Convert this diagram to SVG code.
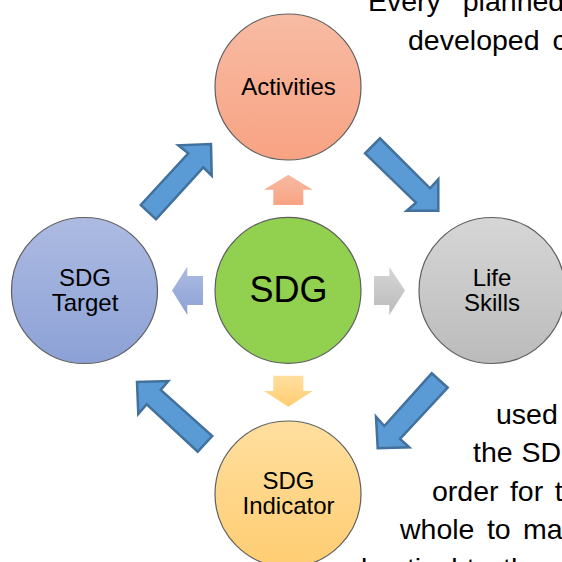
<svg xmlns="http://www.w3.org/2000/svg" width="562" height="562" viewBox="0 0 562 562">
<style>
text{font-family:"Liberation Sans",Arial,sans-serif;fill:#000;text-anchor:middle}
.n{font-size:24px}
.b{font-size:28.500px;text-anchor:start}
.c{stroke:#5f5f5f;stroke-width:1.2}
.a{fill:#5b9bd5;stroke:#41719c;stroke-width:2.500;stroke-linejoin:miter}
</style>
<defs>
<linearGradient id="o" x1="0" y1="0" x2="0" y2="1"><stop offset="0" stop-color="#f7bba3"/><stop offset="1" stop-color="#f9a383"/></linearGradient>
<linearGradient id="g" x1="0" y1="0" x2="0" y2="1"><stop offset="0" stop-color="#d6d6d6"/><stop offset="1" stop-color="#bbbbbb"/></linearGradient>
<linearGradient id="y" x1="0" y1="0" x2="0" y2="1"><stop offset="0" stop-color="#ffdf9f"/><stop offset="1" stop-color="#ffcd72"/></linearGradient>
<linearGradient id="u" x1="0" y1="0" x2="0" y2="1"><stop offset="0" stop-color="#adbbe2"/><stop offset="1" stop-color="#8ca1d6"/></linearGradient>
</defs>
<g id="body-text">
<text class="b" x="368" y="11" word-spacing="14">Every planned</text>
<text class="b" x="408" y="50" word-spacing="5">developed c</text>
<text class="b" x="496" y="424">used</text>
<text class="b" x="473" y="462" word-spacing="1">the SD</text>
<text class="b" x="432" y="501" word-spacing="3.500">order for t</text>
<text class="b" x="400" y="539" word-spacing="4.500">whole to ma</text>
<text class="b" x="361" y="577.500">bactical<tspan x="466.700">to</tspan><tspan x="503">the</tspan></text>
</g>
<g id="connectors">
<path class="a" d="M140.700 205L188.300 153.300L178.300 145.300L211 144L211.700 175.700L203.300 167.300L156 219.300Z"/>
<path class="a" d="M365 153.300L380 138.300L430 188.300L438.300 179.300V210.700H406.700L416 202.700Z"/>
<path class="a" d="M431.700 373.300L447.700 387.700L400 439L409.300 447.300L377.700 448.300L376 416.700L384.300 426Z"/>
<path class="a" d="M212.300 436L197.700 451.700L146.700 404.300L138.300 414L137 382L168.300 381L160.700 390Z"/>
<path fill="url(#o)" d="M264 189.700L288.300 174.700L312.700 189.700H303.300V205H273.300V189.700Z"/>
<path fill="url(#g)" d="M374 276H389.300V266.700L405 290.500L389.300 315V305H374Z"/>
<path fill="url(#y)" d="M273.300 375.700H303.300V391H312.700L288.300 406.700L264 391H273.300Z"/>
<path fill="url(#u)" d="M203 276H187.300V266.700L172 290.500L187.300 315V305H203Z"/>
</g>
<g id="activities"><circle class="c" cx="288" cy="87" r="73" fill="url(#o)"/><text class="n" x="288.500" y="95">Activities</text></g>
<g id="life-skills"><circle class="c" cx="492" cy="290.500" r="73" fill="url(#g)"/><text class="n" x="492" y="286">Life</text><text class="n" x="492" y="311">Skills</text></g>
<g id="sdg"><circle class="c" cx="288" cy="290.300" r="73" fill="#92d050"/><text x="288.500" y="302" font-size="36">SDG</text></g>
<g id="sdg-target"><circle class="c" cx="84.500" cy="290.500" r="73" fill="url(#u)"/><text class="n" x="85" y="286">SDG</text><text class="n" x="85" y="311">Target</text></g>
<g id="sdg-indicator"><circle class="c" cx="288" cy="494" r="73" fill="url(#y)"/><text class="n" x="288.500" y="489">SDG</text><text class="n" x="288.500" y="514">Indicator</text></g>
</svg>
